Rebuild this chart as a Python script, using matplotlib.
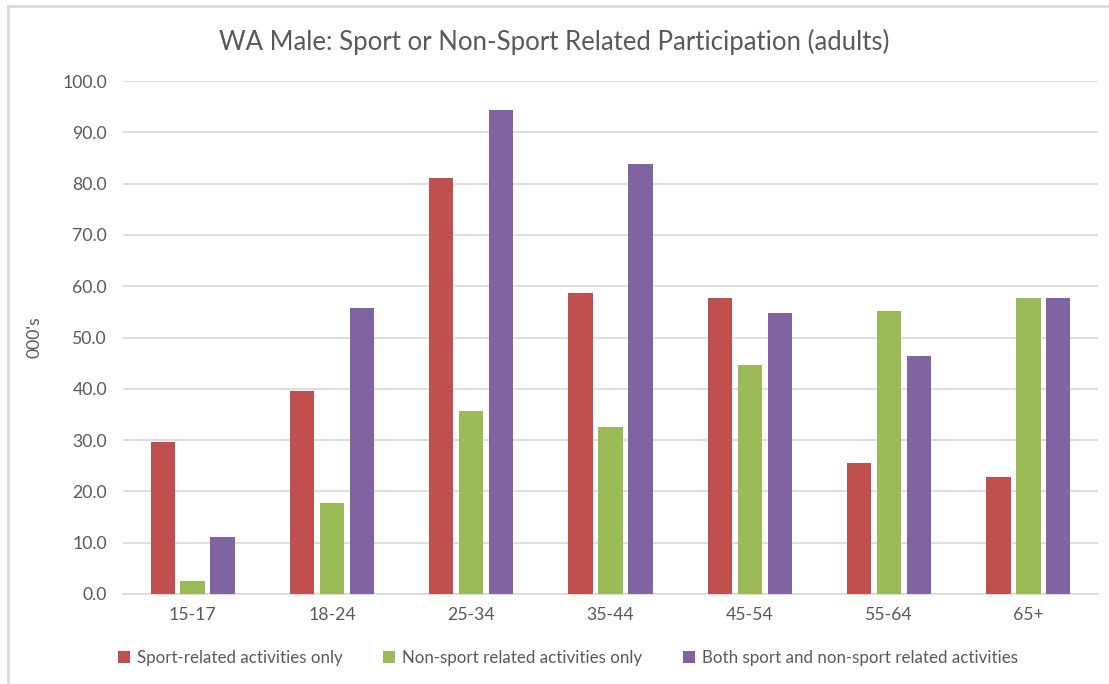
import matplotlib.pyplot as plt
import numpy as np
from matplotlib.patches import Rectangle

plt.rcParams['font.family'] = ['Lato', 'DejaVu Sans']

# data (000's)
age_groups = ['15-17', '18-24', '25-34', '35-44', '45-54', '55-64', '65+']
sport_only = [29.6, 39.6, 81.1, 58.7, 57.7, 25.5, 22.8]
non_sport_only = [2.5, 17.7, 35.7, 32.6, 44.6, 55.2, 57.7]
both = [11.1, 55.7, 94.4, 83.8, 54.8, 46.3, 57.7]

series_names = ['Sport-related activities only',
                'Non-sport related activities only',
                'Both sport and non-sport related activities']
colors = ['#C0504D', '#9BBB59', '#8064A2']

W, H = 1109, 684
fig = plt.figure(figsize=(W / 100, H / 100), dpi=100)
ax = fig.add_axes([123 / W, 1 - 594 / H, (1098 - 123) / W, (594 - 81) / H])

x = np.arange(len(age_groups))
bw = 0.175
offs = [-0.215, 0, 0.215]
for vals, off, c, name in zip([sport_only, non_sport_only, both], offs, colors, series_names):
    ax.bar(x + off, vals, width=bw, color=c, label=name, zorder=3)

ax.set_xlim(-0.5, len(age_groups) - 0.5)
ax.set_ylim(0, 100)
ax.set_yticks(np.arange(0, 101, 10))
ax.set_yticklabels([f'{v:.1f}' for v in np.arange(0, 101, 10)])
ax.set_xticks(x)
ax.set_xticklabels(age_groups)
ax.tick_params(axis='both', length=0, labelsize=12.7, labelcolor='#595959')
ax.tick_params(axis='y', pad=11.5)
ax.tick_params(axis='x', pad=9)
ax.grid(axis='y', color='#D9D9D9', lw=1.2, zorder=0)
for s in ['top', 'right', 'left']:
    ax.spines[s].set_visible(False)
ax.spines['bottom'].set_color('#D9D9D9')
ax.spines['bottom'].set_linewidth(1.2)

ax.set_ylabel("000's", fontsize=12.7, color='#595959')
ax.yaxis.set_label_coords((42 - 123) / (1098 - 123), 0.5)

fig.text(0.5, 1 - 42 / H, 'WA Male: Sport or Non-Sport Related Participation (adults)',
         ha='center', va='center', fontsize=18.5, color='#595959')

fig.legend(loc='center', bbox_to_anchor=(568 / W, 1 - 658 / H), ncol=3, frameon=False,
           fontsize=12.2, labelcolor='#595959', handlelength=0.7, handleheight=0.7,
           handletextpad=0.4, columnspacing=2.4)

# chart frame
fig.patches.append(Rectangle((8 / W, -0.05), 1.1, 1 - 6 / H + 0.05, transform=fig.transFigure,
                             fill=False, edgecolor='#D9D9D9', lw=2))

fig.savefig('out.png', dpi=100)
